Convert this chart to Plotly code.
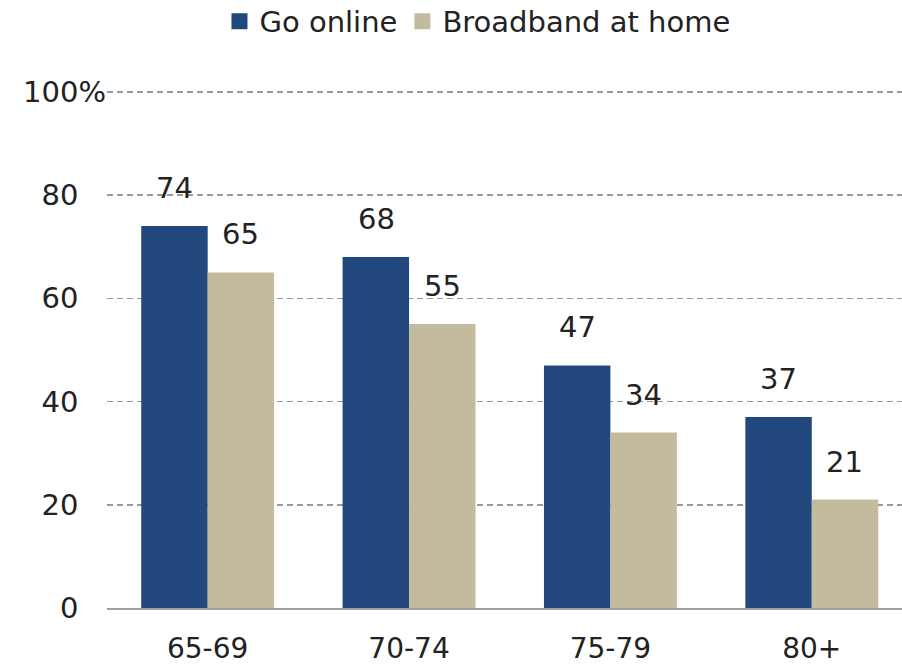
import plotly.graph_objects as go

categories = ["65-69", "70-74", "75-79", "80+"]
go_online = [74, 68, 47, 37]
broadband = [65, 55, 34, 21]
series_names = ["Go online", "Broadband at home"]
y_tickvals = [0, 20, 40, 60, 80, 100]
y_ticktext = ["0", "20", "40", "60", "80", "100%"]

BLUE = "#23487D"
BEIGE = "#C4BB9F"
TXT = "#222222"
FONT = "DejaVu Sans"

fig = go.Figure()
for vals, name, col in ((go_online, series_names[0], BLUE),
                        (broadband, series_names[1], BEIGE)):
    fig.add_trace(go.Bar(x=categories, y=vals, name=name, showlegend=False,
                         marker=dict(color=col, line=dict(width=0))))
    # legend entry with a larger square swatch
    fig.add_trace(go.Scatter(x=[None], y=[None], mode="markers", name=name,
                             marker=dict(symbol="square", size=22, color=col)))

# value labels, offset above each bar
for vals, xs in ((go_online, -33), (broadband, 33)):
    for c, v in zip(categories, vals):
        fig.add_annotation(x=c, y=v, text=str(v), showarrow=False,
                           xshift=xs, yshift=38, yanchor="middle",
                           font=dict(family=FONT, size=29, color=TXT))

# pad non-% labels so the % hangs like the original
nb = "\u00a0" * 3
ticktext = [t if t.endswith("%") else t + nb for t in y_ticktext]

fig.update_layout(
    width=902, height=665,
    margin=dict(l=107, r=0, t=66, b=57, autoexpand=False),
    paper_bgcolor="white", plot_bgcolor="white",
    barmode="group", bargap=0.34, bargroupgap=0,
    font=dict(family=FONT, size=29, color=TXT),
    legend=dict(orientation="h", x=0.466, xanchor="center",
                yref="container", y=0.968, yanchor="middle",
                font=dict(family=FONT, size=29, color=TXT),
                itemclick=False, tracegroupgap=0, itemwidth=30,
                bgcolor="rgba(0,0,0,0)"),
    xaxis=dict(range=[-0.5, 3.448], showgrid=False, showline=True,
               linecolor="#A0A0A0", linewidth=2, ticks="",
               automargin=False, ticklabelstandoff=14,
               tickfont=dict(family=FONT, size=28, color=TXT)),
    yaxis=dict(range=[0, 105], tickvals=y_tickvals, ticktext=ticktext,
               showgrid=True, gridcolor="#9A9A9A", griddash="6px,4px",
               gridwidth=1.5, zeroline=False, showline=False, ticks="",
               automargin=False, ticklabelstandoff=0,
               tickfont=dict(family=FONT, size=29, color=TXT)),
)

fig.write_html("out.html",
               config={"displayModeBar": False, "staticPlot": True},
               post_script="document.body.style.margin='0';"
                           "document.body.style.overflow='hidden';")
